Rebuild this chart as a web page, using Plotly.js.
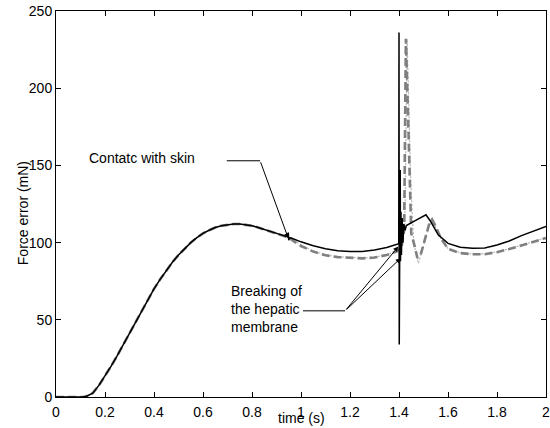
<!DOCTYPE html>
<html>
<head>
<meta charset="utf-8">
<script src="https://cdn.plot.ly/plotly-3.0.1.min.js"></script>
<style>html,body{margin:0;padding:0;background:#fff;}#chart{width:550px;height:428px;}</style>
</head>
<body>
<div id="chart"></div>
<script>
// Shared rising part (before contact with skin)
const tRise = [0, 0.05, 0.1, 0.11, 0.125, 0.15, 0.175, 0.2, 0.225, 0.25, 0.275, 0.3, 0.325, 0.35, 0.375, 0.4, 0.425, 0.45, 0.475, 0.5, 0.525, 0.55, 0.575, 0.6, 0.625, 0.65, 0.675, 0.7, 0.725, 0.75, 0.775, 0.8, 0.825, 0.85, 0.875, 0.9, 0.925, 0.945];
const vRise = [0, 0, 0, 0, 0.5, 2.5, 7.5, 13.5, 20, 26.8, 34, 41.5, 49, 56.5, 63.5, 70, 76.2, 82, 87.3, 92, 96.3, 100, 103.2, 106, 108, 109.8, 110.9, 111.6, 112, 112, 111.6, 110.9, 109.8, 108.6, 107.3, 106, 104.8, 103.7];

// Solid black series (after contact)
const tSolidTail = [0.948, 0.95, 0.952, 0.96, 1.0, 1.05, 1.1, 1.15, 1.2, 1.25, 1.3, 1.35, 1.39, 1.399, 1.4, 1.401, 1.403, 1.405, 1.406, 1.408, 1.41, 1.413, 1.416, 1.42, 1.425, 1.43, 1.47, 1.51, 1.53, 1.56, 1.6, 1.65, 1.7, 1.75, 1.8, 1.85, 1.9, 1.95, 2.0];
const vSolidTail = [106.5, 101.5, 103.2, 103, 100.5, 98, 96, 94.8, 94.2, 94.2, 95.2, 96.8, 98.5, 99.3, 236, 34, 100, 147, 88, 120, 92, 116, 100, 112, 108, 111, 114.5, 118, 113.5, 105, 99.5, 97, 96.3, 96.5, 98.5, 101, 104.5, 107.5, 110.5];

// Gray dashed series (after contact)
const tDashedTail = [0.95, 0.97, 1.0, 1.05, 1.1, 1.15, 1.2, 1.25, 1.3, 1.35, 1.39, 1.41, 1.421, 1.428, 1.433, 1.438, 1.445, 1.45, 1.465, 1.475, 1.49, 1.51, 1.525, 1.535, 1.55, 1.57, 1.6, 1.65, 1.7, 1.75, 1.8, 1.85, 1.9, 1.95, 2.0];
const vDashedTail = [103.3, 101, 97.8, 94.2, 91.8, 90.6, 90, 89.8, 90.3, 92, 94.2, 97, 108, 232, 205, 171, 128, 106, 97, 90, 93, 104, 113, 115, 110.5, 103, 96, 93.2, 92.5, 92.5, 93.8, 95.8, 98, 100.5, 103];

// Light gray dotted series (after contact)
const tDottedTail = [0.95, 0.97, 1.0, 1.05, 1.1, 1.15, 1.2, 1.25, 1.3, 1.35, 1.39, 1.41, 1.424, 1.433, 1.44, 1.448, 1.46, 1.479, 1.5, 1.52, 1.533, 1.55, 1.57, 1.6, 1.65, 1.7, 1.75, 1.8, 1.85, 1.9, 1.95, 2.0];
const vDottedTail = [103.5, 101.5, 98.5, 94.5, 92, 90.8, 90.2, 90, 90.5, 92.2, 94.4, 97.5, 110, 232, 190, 140, 100, 86.5, 98, 110, 114.5, 110, 103, 96.2, 93.4, 92.7, 92.7, 94, 96, 98.2, 100.7, 103.2];

const xTicks = [0, 0.2, 0.4, 0.6, 0.8, 1, 1.2, 1.4, 1.6, 1.8, 2];
const xTickLabels = ["0", "0.2", "0.4", "0.6", "0.8", "1", "1.2", "1.4", "1.6", "1.8", "2"];
const yTicks = [0, 50, 100, 150, 200, 250];

const FONT = "Liberation Sans, Arial, Helvetica, sans-serif";

const traces = [
  {x: tRise.concat(tDottedTail), y: vRise.concat(vDottedTail), mode: "lines",
   line: {color: "#b4b4b4", width: 1.2, dash: "2px,2px"}, hoverinfo: "skip"},
  {x: tRise.concat(tDashedTail), y: vRise.concat(vDashedTail), mode: "lines",
   line: {color: "#808080", width: 2.6, dash: "8px,4px"}, hoverinfo: "skip"},
  {x: tRise.concat(tSolidTail), y: vRise.concat(vSolidTail), mode: "lines",
   line: {color: "#000000", width: 1.5}, hoverinfo: "skip"}
];

const txtFont = {family: FONT, size: 14, color: "#000"};
const arrowBase = {xref: "x", yref: "y", axref: "x", ayref: "y", text: "", showarrow: true,
  arrowhead: 2, arrowsize: 1, arrowwidth: 1, arrowcolor: "#000"};

const layout = {
  width: 550, height: 428,
  margin: {l: 56, r: 4, t: 11, b: 31, pad: 0},
  paper_bgcolor: "#fff", plot_bgcolor: "#fff",
  showlegend: false,
  font: {family: FONT, size: 14, color: "#000"},
  xaxis: {range: [0, 2], tickvals: xTicks, ticktext: xTickLabels, ticks: "inside", ticklen: 5,
    tickcolor: "#000", showline: true, linecolor: "#000", linewidth: 1, mirror: "ticks",
    showgrid: false, zeroline: false, ticklabeloverflow: "allow", ticklabelstandoff: 2,
    tickfont: {family: FONT, size: 14, color: "#000"}},
  yaxis: {range: [0, 250], tickvals: yTicks, ticks: "inside", ticklen: 5,
    tickcolor: "#000", showline: true, linecolor: "#000", linewidth: 1, mirror: "ticks",
    showgrid: false, zeroline: false, tickfont: {family: FONT, size: 14, color: "#000"}},
  shapes: [
    {type: "line", xref: "x", yref: "y", x0: 0.697, y0: 153, x1: 0.833, y1: 153, line: {color: "#000", width: 1}},
    {type: "line", xref: "x", yref: "y", x0: 1.008, y0: 55.8, x1: 1.18, y1: 55.8, line: {color: "#000", width: 1}}
  ],
  annotations: [
    {xref: "paper", yref: "paper", x: 0.5, y: -0.0545, xanchor: "center", yanchor: "middle",
     text: "time (s)", showarrow: false, borderpad: 0, font: txtFont},
    {xref: "paper", yref: "paper", x: -0.0667, y: 0.477, xanchor: "center", yanchor: "middle",
     text: "Force error (mN)", textangle: -90, showarrow: false, font: txtFont},
    {xref: "x", yref: "y", x: 0.125, y: 154.6, xanchor: "left", yanchor: "middle",
     text: "Contatc with skin", showarrow: false, font: txtFont},
    {xref: "x", yref: "y", x: 0.708, y: 56.9, xanchor: "left", yanchor: "middle", align: "left",
     text: "Breaking of<br>the hepatic<br>membrane", showarrow: false, font: txtFont},
    Object.assign({}, arrowBase, {x: 0.948, y: 102.8, ax: 0.833, ay: 153}),
    Object.assign({}, arrowBase, {x: 1.397, y: 97.4, ax: 1.18, ay: 55.8}),
    Object.assign({}, arrowBase, {x: 1.407, y: 89.9, ax: 1.18, ay: 55.8})
  ]
};

Plotly.newPlot("chart", traces, layout, {staticPlot: true, displayModeBar: false});
</script>
</body>
</html>
